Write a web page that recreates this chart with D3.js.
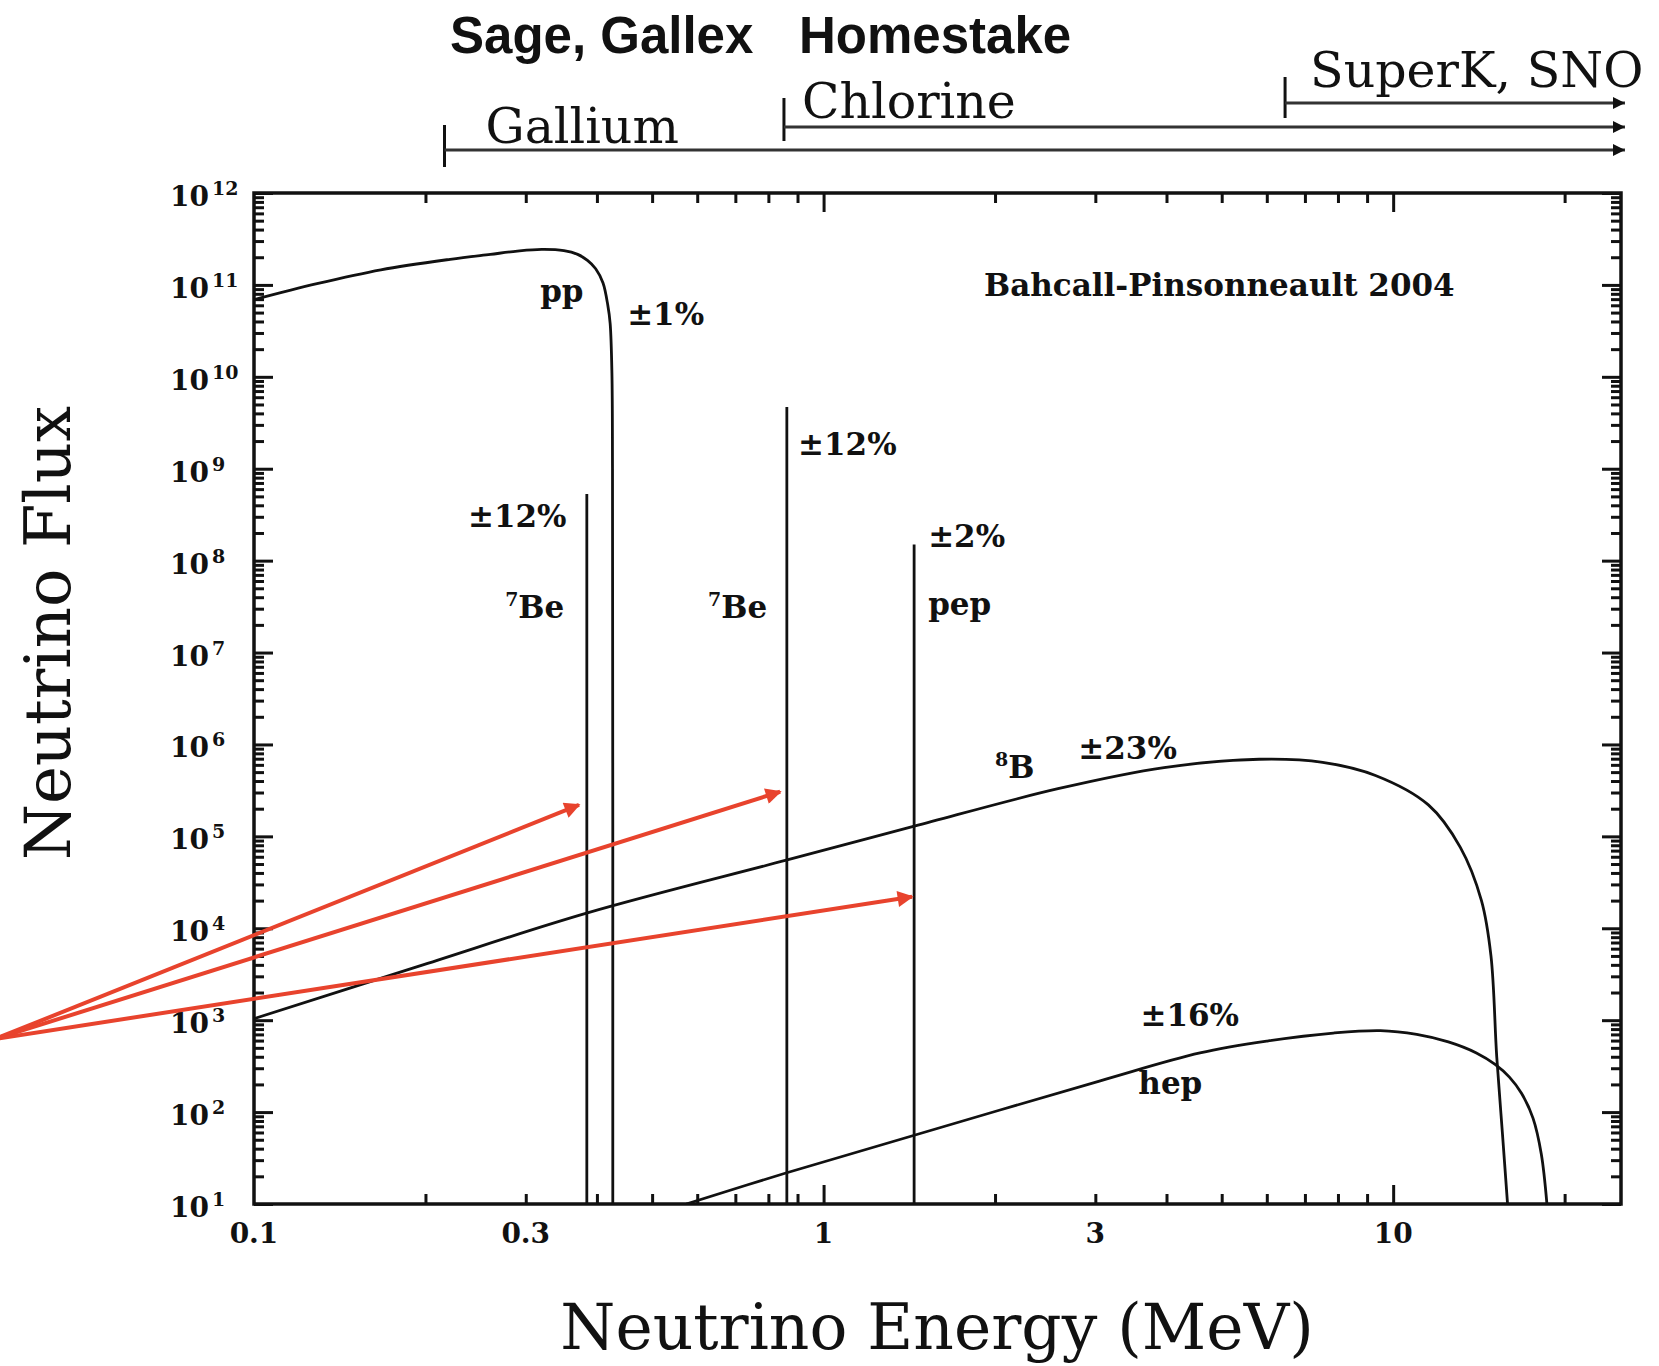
<!DOCTYPE html>
<html><head><meta charset="utf-8">
<script src="https://cdn.jsdelivr.net/npm/d3@7"></script>
<style>body{margin:0;background:#fff;} svg{display:block;background:#fff}</style>
</head><body>
<svg id="chart" width="1659" height="1366"></svg>
<script>
// ---------------- DATA ----------------
const xTickValues = [0.1, 0.3, 1, 3, 10];
const xTickLabels = ["0.1", "0.3", "1", "3", "10"];
const yTickExponents = [1, 2, 3, 4, 5, 6, 7, 8, 9, 10, 11, 12];

// continuum spectra: [energy MeV, flux]
const ppEnergy = [0.100, 0.129, 0.167, 0.221, 0.260, 0.290, 0.320, 0.350, 0.370, 0.385, 0.398, 0.410, 0.418, 0.422, 0.425, 0.426, 0.4265];
const ppFlux   = [6.9e10, 1.03e11, 1.46e11, 1.9e11, 2.15e11, 2.33e11, 2.43e11, 2.36e11, 2.15e11, 1.85e11, 1.5e11, 1.05e11, 6e10, 3.8e10, 1.1e10, 1e9, 10];

const b8Energy = [0.100, 0.198, 0.385, 0.860, 1.443, 2.58, 3.96, 5.82, 7.52, 9.31, 11.53, 13.12, 14.29, 14.85, 15.2, 15.55, 15.88];
const b8Flux   = [1.04e3, 4.0e3, 1.47e4, 5.5e4, 1.29e5, 3.3e5, 5.6e5, 6.9e5, 6.4e5, 4.6e5, 2.2e5, 7.6e4, 2.0e4, 5.0e3, 4.0e2, 60, 10];

const hepEnergy = [0.574, 0.856, 1.443, 3.06, 4.58, 6.01, 7.85, 9.5, 11.0, 12.5, 14.0, 15.1, 16.0, 16.8, 17.6, 18.2, 18.62];
const hepFlux   = [10, 21.6, 56, 219, 440, 593, 724, 770, 700, 580, 440, 330, 240, 160, 86, 35, 10];

// line sources
const lineNames  = ["7Be", "7Be", "pep"];
const lineEnergy = [0.384, 0.862, 1.442];
const lineFlux   = [5.3e8, 4.7e9, 1.5e8];

// experiment thresholds (top bars)
const expNames      = ["Gallium", "Chlorine", "SuperK, SNO"];
const expThresholds = [0.216, 0.852, 6.46];

// annotations on the plot: text, energy, flux (left/baseline anchor)
const annText   = ["pp", "±1%", "±12%", "Be", "Be", "±12%", "±2%", "pep", "B", "±23%", "±16%", "hep"];
const annSup    = ["", "", "", "7", "7", "", "", "", "8", "", "", ""];
const annEnergy = [0.318, 0.452, 0.2375, 0.276, 0.627, 0.902, 1.526, 1.526, 2.0, 2.80, 3.60, 3.57];
const annFlux   = [6.5e10, 3.65e10, 2.3e8, 2.35e7, 2.35e7, 1.4e9, 1.39e8, 2.53e7, 4.35e5, 7.0e5, 865, 157];

// red arrows (origin off the left of the plot, three targets)
const arrowOrigin = [0.0351, 624];
const arrowTargetEnergy = [0.372, 0.839, 1.43];
const arrowTargetFlux   = [2.2e5, 3.06e5, 2.2e4];

// ---------------- CHART ----------------
const svg = d3.select("#chart");
const L = 254, R = 1621, T = 193, B = 1204;
const x = d3.scaleLog().domain([0.1, 25.12]).range([L, R]);
const y = d3.scaleLog().domain([10, 1e12]).range([B, T]);

const serif = "'DejaVu Serif', serif";
const ink = "#111";

svg.append("rect").attr("width", 1659).attr("height", 1366).attr("fill", "#fff");

const defs = svg.append("defs");
defs.append("clipPath").attr("id", "plotclip")
  .append("rect").attr("x", L).attr("y", T).attr("width", R - L).attr("height", B - T);
defs.append("marker").attr("id", "blackhead").attr("viewBox", "0 0 10 10")
  .attr("refX", 10).attr("refY", 5).attr("markerWidth", 16).attr("markerHeight", 12)
  .attr("markerUnits", "userSpaceOnUse").attr("orient", "auto")
  .append("path").attr("d", "M0,0 L10,5 L0,10 Z").attr("fill", ink);
defs.append("marker").attr("id", "redhead").attr("viewBox", "0 0 10 10")
  .attr("refX", 9).attr("refY", 5).attr("markerWidth", 22).attr("markerHeight", 16)
  .attr("markerUnits", "userSpaceOnUse").attr("orient", "auto")
  .append("path").attr("d", "M0,0 L10,5 L0,10 Z").attr("fill", "#e8432d");

// ticks
const xMinor = x.ticks().filter(d => ![0.1, 1, 10].includes(d));
const xMajor = [1, 10];
const yAll = y.ticks(30);
const yMajor = yTickExponents.map(e => Math.pow(10, e));
const yMinor = yAll.filter(d => !yMajor.some(m => Math.abs(m - d) / d < 1e-6));

function styleAxis(g) {
  g.select(".domain").remove();
  g.selectAll(".tick line").attr("stroke", ink).attr("stroke-width", 3);
  g.selectAll("text").remove();
}
svg.append("g").attr("transform", `translate(0,${B})`).call(d3.axisBottom(x).tickValues(xMinor).tickSize(-10)).call(styleAxis);
svg.append("g").attr("transform", `translate(0,${B})`).call(d3.axisBottom(x).tickValues(xMajor).tickSize(-19)).call(styleAxis);
svg.append("g").attr("transform", `translate(0,${T})`).call(d3.axisTop(x).tickValues(xMinor).tickSize(-10)).call(styleAxis);
svg.append("g").attr("transform", `translate(0,${T})`).call(d3.axisTop(x).tickValues(xMajor).tickSize(-19)).call(styleAxis);
svg.append("g").attr("transform", `translate(${L},0)`).call(d3.axisLeft(y).tickValues(yMinor).tickSize(-10)).call(styleAxis);
svg.append("g").attr("transform", `translate(${L},0)`).call(d3.axisLeft(y).tickValues(yMajor).tickSize(-19)).call(styleAxis);
svg.append("g").attr("transform", `translate(${R},0)`).call(d3.axisRight(y).tickValues(yMinor).tickSize(-10)).call(styleAxis);
svg.append("g").attr("transform", `translate(${R},0)`).call(d3.axisRight(y).tickValues(yMajor).tickSize(-19)).call(styleAxis);

// frame
svg.append("rect").attr("x", L).attr("y", T).attr("width", R - L).attr("height", B - T)
  .attr("fill", "none").attr("stroke", ink).attr("stroke-width", 3.5);

// x tick labels
svg.append("g").selectAll("text").data(xTickValues).join("text")
  .attr("x", d => x(d)).attr("y", B + 39).attr("text-anchor", "middle")
  .attr("font-family", serif).attr("font-weight", "bold").attr("font-size", 28).attr("fill", ink)
  .text((d, i) => xTickLabels[i]);

// y tick labels 10^n
const yl = svg.append("g").selectAll("text").data(yTickExponents).join("text")
  .attr("x", 170).attr("y", d => y(Math.pow(10, d)) + 13)
  .attr("font-family", serif).attr("font-weight", "bold").attr("font-size", 28).attr("fill", ink);
yl.append("tspan").text("10");
yl.append("tspan").attr("font-size", 19).attr("dy", -11).attr("dx", 3).text(d => String(d));

// curves
const line = d3.line().x(d => x(d[0])).y(d => y(d[1])).curve(d3.curveCatmullRom.alpha(0.5));
const plot = svg.append("g").attr("clip-path", "url(#plotclip)");
[[ppEnergy, ppFlux], [b8Energy, b8Flux], [hepEnergy, hepFlux]].forEach(([E, F]) => {
  plot.append("path").datum(E.map((e, i) => [e, F[i]])).attr("d", line)
    .attr("fill", "none").attr("stroke", ink).attr("stroke-width", 2.8);
});
// line sources
plot.selectAll("line.src").data(lineEnergy).join("line").attr("class", "src")
  .attr("x1", d => x(d)).attr("x2", d => x(d))
  .attr("y1", (d, i) => y(lineFlux[i])).attr("y2", y(10))
  .attr("stroke", ink).attr("stroke-width", 2.8);

// annotations
const ann = svg.append("g").selectAll("text").data(annText).join("text")
  .attr("x", (d, i) => x(annEnergy[i])).attr("y", (d, i) => y(annFlux[i]))
  .attr("font-family", serif).attr("font-weight", "bold").attr("font-size", 31).attr("fill", ink);
ann.each(function(d, i) {
  const t = d3.select(this);
  if (annSup[i]) {
    t.append("tspan").attr("font-size", 19).attr("dy", -12).text(annSup[i]);
    t.append("tspan").attr("dy", 12).text(d);
  } else t.text(d);
});

// model label
svg.append("text").attr("x", x(1.913)).attr("y", y(7.55e10))
  .attr("font-family", serif).attr("font-weight", "bold").attr("font-size", 31).attr("fill", ink)
  .text("Bahcall-Pinsonneault 2004");

// experiment bars on top
const barY = [150, 127, 103];
const tickTop = [125, 98, 77];
const tickBot = [167, 141, 118];
const labelDx = [41, 18, 25];
const labelY = [143, 118, 87];
expThresholds.forEach((t, i) => {
  svg.append("line").attr("x1", x(t)).attr("x2", x(t)).attr("y1", tickTop[i]).attr("y2", tickBot[i])
    .attr("stroke", ink).attr("stroke-width", 3);
  svg.append("line").attr("x1", x(t)).attr("x2", R + 4).attr("y1", barY[i]).attr("y2", barY[i])
    .attr("stroke", "#333").attr("stroke-width", 3.2).attr("marker-end", "url(#blackhead)");
  svg.append("text").attr("x", x(t) + labelDx[i]).attr("y", labelY[i])
    .attr("font-family", serif).attr("font-size", 49).attr("fill", ink).text(expNames[i]);
});

// headings
svg.append("text").attr("x", 450).attr("y", 53)
  .attr("font-family", "'Liberation Sans', Arial, sans-serif").attr("font-weight", "bold")
  .attr("font-size", 51).attr("fill", ink).text("Sage, Gallex");
svg.append("text").attr("x", 799).attr("y", 53)
  .attr("font-family", "'Liberation Sans', Arial, sans-serif").attr("font-weight", "bold")
  .attr("font-size", 51).attr("fill", ink).text("Homestake");

// axis titles
svg.append("text").attr("x", 937).attr("y", 1349).attr("text-anchor", "middle")
  .attr("font-family", serif).attr("font-size", 63).attr("fill", ink).text("Neutrino Energy (MeV)");
svg.append("text").attr("transform", "translate(70,633) rotate(-90)").attr("text-anchor", "middle")
  .attr("font-family", serif).attr("font-size", 64).attr("fill", ink).text("Neutrino Flux");

// red arrows
arrowTargetEnergy.forEach((e, i) => {
  svg.append("line")
    .attr("x1", x(arrowOrigin[0])).attr("y1", y(arrowOrigin[1]))
    .attr("x2", x(e)).attr("y2", y(arrowTargetFlux[i]))
    .attr("stroke", "#e8432d").attr("stroke-width", 4).attr("marker-end", "url(#redhead)");
});
</script>
</body></html>
